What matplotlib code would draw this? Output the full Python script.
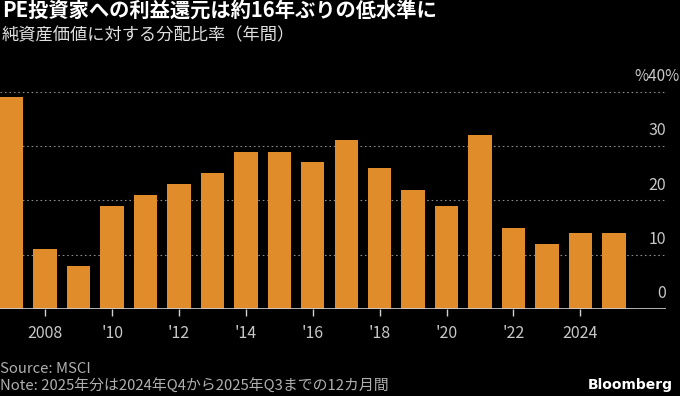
import matplotlib
matplotlib.use("Agg")
import matplotlib.pyplot as plt

plt.rcParams['font.family'] = ['Noto Sans CJK JP', 'DejaVu Sans']

years = list(range(2007, 2026))
payout = [39.1, 11.0, 8.0, 19.0, 21.0, 23.0, 25.0, 29.0, 29.0, 27.0,
          31.1, 26.0, 22.0, 19.0, 32.1, 15.0, 12.0, 14.0, 14.0]

tick_years = [2008, 2010, 2012, 2014, 2016, 2018, 2020, 2022, 2024]
tick_labels = ['2008', "'10", "'12", "'14", "'16", "'18", "'20", "'22", '2024']
y_ticks = [0, 10, 20, 30, 40]
y_labels = ['0', '10', '20', '30', '%40%']

title = 'PE投資家への利益還元は約16年ぶりの低水準に'
subtitle = '純資産価値に対する分配比率（年間）'
source = 'Source: MSCI'
note = 'Note: 2025年分は2024年Q4から2025年Q3までの12カ月間'

bar_color = '#E08C2A'
bg = '#000000'
text_gray = '#c8c8c8'

fig = plt.figure(figsize=(6.8, 3.96), dpi=100, facecolor=bg)
ax = fig.add_axes([0.0, 0.219, 0.9794, 0.577])
ax.set_facecolor(bg)

ax.bar(years, payout, width=0.7, color=bar_color, zorder=3)

ax.set_xlim(2006.65, 2026.56)
ax.set_ylim(0, 42)

# dotted gridlines
for v in y_ticks[1:]:
    ax.axhline(v, color='#8a8a8a', linestyle=(0, (1.5, 2.5)), linewidth=0.8, zorder=1)
ax.axhline(0, color='#d0d0d0', linewidth=1.2, zorder=4)

for v, lab in zip(y_ticks, y_labels):
    ax.annotate(lab, xy=(1, v), xycoords=ax.get_yaxis_transform(),
                xytext=(0 if v < 40 else 9.5, 11), textcoords='offset points',
                ha='right', va='center', color=text_gray,
                fontsize=11.5 if v < 40 else 11,
                annotation_clip=False)

ax.set_yticks([])
ax.set_xticks(tick_years)
ax.set_xticklabels(tick_labels, fontsize=11.5, color=text_gray)
ax.tick_params(axis='x', length=5, width=1, color='#d0d0d0', pad=6)
for s in ax.spines.values():
    s.set_visible(False)

fig.text(0.003, 1 - 10 / 396, title, fontsize=14.6, fontweight='bold',
         color='white', ha='left', va='center')
fig.text(0.003, 1 - 35 / 396, subtitle, fontsize=12.4, color='#e0e0e0',
         ha='left', va='center')
fig.text(0.0, 1 - 369 / 396, source, fontsize=10.7, color='#b0b0b0',
         ha='left', va='center')
fig.text(0.0, 1 - 386.5 / 396, note, fontsize=10.7, color='#b0b0b0',
         ha='left', va='center')
fig.text(673 / 680, 1 - 384.5 / 396, 'Bloomberg', fontsize=10,
         fontweight='bold', color='white', ha='right', va='center',
         family='DejaVu Sans')

fig.savefig('out.png', dpi=100, facecolor=bg)
